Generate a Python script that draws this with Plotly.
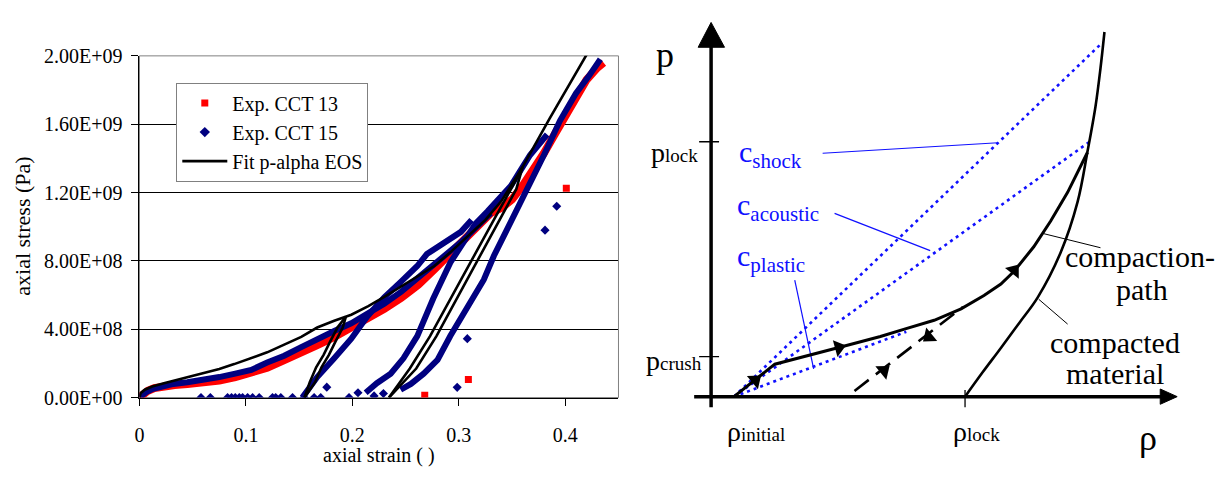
import math
import plotly.graph_objects as go

W, H = 1218, 484
SERIF = "Times New Roman, Liberation Serif, DejaVu Serif, serif"
RED = "#ff0000"
NAVY = "#000080"
BLUE = "#1010ff"

# ---------------- Left chart: experimental data (strain [-], stress [Pa]) ----------------
cct13_strain = [0, 0.003, 0.008, 0.014, 0.022, 0.033, 0.045, 0.058, 0.075, 0.09, 0.105, 0.12,
                0.136, 0.152, 0.167, 0.183, 0.199, 0.215, 0.23, 0.246, 0.262, 0.277, 0.29, 0.302,
                0.312, 0.321, 0.33, 0.34, 0.35, 0.36, 0.37, 0.38, 0.39, 0.40, 0.41, 0.42, 0.43, 0.436]
cct13_stress = [0, 2.0e7, 4.0e7, 5.6e7, 6.6e7, 7.4e7, 7.9e7, 8.6e7, 1.0e8, 1.2e8, 1.45e8, 1.75e8,
                2.2e8, 2.6e8, 3.07e8, 3.55e8, 4.1e8, 4.6e8, 5.2e8, 5.85e8, 6.6e8, 7.5e8, 8.3e8, 9.0e8,
                9.7e8, 1.03e9, 1.08e9, 1.11e9, 1.16e9, 1.24e9, 1.33e9, 1.43e9, 1.54e9, 1.65e9, 1.76e9,
                1.86e9, 1.93e9, 1.96e9]
cct13_extra_strain = [0.268, 0.309, 0.401]
cct13_extra_stress = [1.3e7, 1.06e8, 1.225e9]

# CCT 15: loading branch and re-loading branches
cct15_load_strain = [0, 0.002, 0.006, 0.012, 0.02, 0.03, 0.045, 0.06, 0.075, 0.09, 0.105, 0.12,
                     0.136, 0.152, 0.167, 0.183, 0.199, 0.215, 0.23, 0.246, 0.262, 0.277, 0.29,
                     0.302, 0.312, 0.321, 0.33]
cct15_load_stress = [0, 1.2e7, 3.0e7, 5.0e7, 6.6e7, 7.8e7, 9.0e7, 1.03e8, 1.2e8, 1.4e8, 1.62e8, 2.05e8,
                     2.45e8, 2.95e8, 3.45e8, 3.9e8, 4.35e8, 4.9e8, 5.5e8, 6.2e8, 7.0e8, 7.8e8, 8.5e8,
                     9.1e8, 9.7e8, 1.02e9, 1.08e9]
cct15_rel1_strain = [0.153, 0.155, 0.167, 0.183, 0.199, 0.214, 0.23, 0.246, 0.261, 0.27, 0.286, 0.302, 0.312]
cct15_rel1_stress = [0, 1.8e7, 1.2e8, 2.3e8, 3.45e8, 4.75e8, 5.87e8, 6.8e8, 7.7e8, 8.4e8, 9.05e8, 9.7e8, 1.04e9]
cct15_rel2_strain = [0.2125, 0.223, 0.236, 0.248, 0.261, 0.276, 0.292, 0.305, 0.316, 0.327, 0.338, 0.349,
                     0.358, 0.367, 0.375, 0.383]
cct15_rel2_stress = [2.8e7, 8.4e7, 1.4e8, 2.3e8, 3.6e8, 5.8e8, 7.9e8, 9.2e8, 1.02e9, 1.09e9, 1.16e9, 1.24e9,
                     1.33e9, 1.42e9, 1.48e9, 1.54e9]
cct15_rel3_strain = [0.2454, 0.255, 0.267, 0.28, 0.292, 0.303, 0.314, 0.3235, 0.333, 0.345, 0.355, 0.365,
                     0.38, 0.395, 0.41, 0.422, 0.433]
cct15_rel3_stress = [4.6e7, 8.0e7, 1.4e8, 2.2e8, 3.6e8, 4.8e8, 6.0e8, 6.9e8, 8.3e8, 9.8e8, 1.1e9, 1.22e9,
                     1.42e9, 1.62e9, 1.78e9, 1.88e9, 1.98e9]
cct15_extra_strain = [0.0578, 0.0666, 0.0828, 0.0865, 0.09, 0.0938, 0.0969, 0.1016, 0.1063, 0.1125, 0.125,
                      0.128, 0.1328, 0.1438, 0.1547, 0.1641, 0.1703, 0.176, 0.1969, 0.2053, 0.2204, 0.2292,
                      0.2985, 0.308, 0.381, 0.392]
cct15_extra_stress = [0, 0, 0, 0, 0, 0, 0, 0, 0, 0, 0,
                      0, 0, 0, 0, 0, 0, 6.1e7, 0, 2.8e7, 1.0e7, 2.4e7,
                      6.0e7, 3.45e8, 9.8e8, 1.12e9]

# Fit p-alpha EOS: loading curve and two unload/reload loops
fit_load_strain = [0, 0.001, 0.005, 0.012, 0.023, 0.04, 0.058, 0.075, 0.089, 0.105, 0.12, 0.136, 0.152,
                   0.167, 0.183, 0.199, 0.215, 0.23, 0.246, 0.262, 0.277, 0.292, 0.308, 0.325, 0.34,
                   0.36, 0.385, 0.405, 0.425]
fit_load_stress = [0, 2.5e7, 4.6e7, 6.5e7, 8.4e7, 1.1e8, 1.4e8, 1.68e8, 1.96e8, 2.3e8, 2.65e8, 3.1e8, 3.55e8,
                   4.1e8, 4.5e8, 4.85e8, 5.35e8, 5.9e8, 6.5e8, 7.1e8, 7.7e8, 8.5e8, 9.4e8, 1.04e9, 1.15e9,
                   1.35e9, 1.63e9, 1.85e9, 2.06e9]
fit_loop1a_strain = [0.155, 0.160, 0.166, 0.173, 0.179, 0.186, 0.194]
fit_loop1b_strain = [0.155, 0.165, 0.171, 0.178, 0.184, 0.191, 0.194]
fit_loop1_stress = [0, 0.9e8, 1.77e8, 2.5e8, 3.26e8, 4.1e8, 4.75e8]
fit_loop2a_strain = [0.2344, 0.254, 0.273, 0.294, 0.314, 0.332, 0.349, 0.36]
fit_loop2b_strain = [0.2344, 0.260, 0.279, 0.300, 0.320, 0.338, 0.354, 0.36]
fit_loop2_stress = [0, 1.7e8, 3.6e8, 6.0e8, 8.3e8, 1.03e9, 1.22e9, 1.35e9]

y_tickvals = [0, 4e8, 8e8, 1.2e9, 1.6e9, 2e9]
y_ticktext = ["0.00E+00", "4.00E+08", "8.00E+08", "1.20E+09", "1.60E+09", "2.00E+09"]
x_tickvals = [0, 0.1, 0.2, 0.3, 0.4]
x_ticktext = ["0", "0.1", "0.2", "0.3", "0.4"]

# ---------------- Right: schematic p-alpha diagram (rho units, p units) ----------------
p_axis_rho, p_axis_p = [0, 0], [-11, 367]
p_head_rho, p_head_p = [-13, 13.5, 0, -13], [366, 366, 392, 366]
rho_axis_rho, rho_axis_p = [-17, 452], [0, 0]
rho_head_rho, rho_head_p = [451, 451, 468, 451], [8, -8, 0, 8]
p_lock_level, p_crush_level, rho_lock_level = 267, 42, 255
tick_half = (-12, 8)

path_rho = [23, 64, 134, 170, 195, 224, 251, 274, 291, 304, 324, 341, 358, 378]
path_p = [0, 34, 53, 63, 71, 80, 92, 106, 118, 131, 157, 184, 214, 256]
compacted_rho = [255, 273, 291, 310, 328, 351, 368, 378, 386, 391, 395]
compacted_p = [0, 26, 51, 78, 104, 151, 204, 257, 304, 344, 382]
unload_rho, unload_p = [144, 253], [6, 94]
c_shock_rho, c_shock_p = [23, 393], [0, 371]
c_acoustic_rho, c_acoustic_p = [23, 380], [0, 267]
c_plastic_rho, c_plastic_p = [23, 196], [0, 68]
blue_leaders = [((112, 255), (288, 266)), ((124, 192), (220, 153)), ((84, 122), (103, 29))]
black_leaders = [((333, 171), (391, 156)), ((329, 102), (358, 76))]
# arrowheads: (tail, tip) along the paths
path_arrows = [((37.5, 11.5), (49, 21)), ((120.5, 49.3), (134, 53)), ((299.5, 126), (308, 137)),
               ((167, 22), (178, 31)), ((225, 68), (214, 59))]


def joined(xs_list, ys_list):
    X, Y = [], []
    for xs, ys in zip(xs_list, ys_list):
        if X:
            X.append(None)
            Y.append(None)
        X += list(xs)
        Y += list(ys)
    return X, Y


fig = go.Figure()

# ----- left chart traces -----
fig.add_trace(go.Scatter(x=cct13_strain, y=cct13_stress, mode="lines",
                         line=dict(color=RED, width=8), showlegend=False, hoverinfo="skip"))
fig.add_trace(go.Scatter(x=cct13_extra_strain, y=cct13_extra_stress, mode="markers",
                         marker=dict(symbol="square", color=RED, size=7), showlegend=False))
bx, by = joined([cct15_load_strain, cct15_rel1_strain, cct15_rel2_strain, cct15_rel3_strain],
                [cct15_load_stress, cct15_rel1_stress, cct15_rel2_stress, cct15_rel3_stress])
fig.add_trace(go.Scatter(x=bx, y=by, mode="lines", line=dict(color=NAVY, width=6),
                         showlegend=False, hoverinfo="skip"))
fig.add_trace(go.Scatter(x=cct15_extra_strain, y=cct15_extra_stress, mode="markers",
                         marker=dict(symbol="diamond", color=NAVY, size=7), showlegend=False))
fx, fy = joined([fit_load_strain, fit_loop1a_strain, fit_loop1b_strain, fit_loop2a_strain, fit_loop2b_strain],
                [fit_load_stress, fit_loop1_stress, fit_loop1_stress, fit_loop2_stress, fit_loop2_stress])

# legend entries
fig.add_trace(go.Scatter(x=[None], y=[None], mode="markers", name="Exp. CCT 13",
                         marker=dict(symbol="square", color=RED, size=7)))
fig.add_trace(go.Scatter(x=[None], y=[None], mode="markers", name="Exp. CCT 15",
                         marker=dict(symbol="diamond", color=NAVY, size=8)))
fig.add_trace(go.Scatter(x=fx, y=fy, mode="lines", name="Fit p-alpha EOS",
                         line=dict(color="black", width=2.6)))


# ----- right schematic traces -----
def sch_line(xs, ys, color="black", width=2, dash=None, fill=None, shape="linear"):
    fig.add_trace(go.Scatter(x=xs, y=ys, xaxis="x2", yaxis="y2", mode="lines",
                             line=dict(color=color, width=width, dash=dash, shape=shape),
                             fill=fill, fillcolor=color if fill else None,
                             showlegend=False, hoverinfo="skip"))


sch_line(c_shock_rho, c_shock_p, BLUE, 2.6, "3px,4px")
sch_line(c_acoustic_rho, c_acoustic_p, BLUE, 2.6, "3px,4px")
sch_line(c_plastic_rho, c_plastic_p, BLUE, 2.6, "3px,4px")
for (a, b) in blue_leaders:
    sch_line([a[0], b[0]], [a[1], b[1]], BLUE, 1.2)
for (a, b) in black_leaders:
    sch_line([a[0], b[0]], [a[1], b[1]], "black", 1)
sch_line(p_axis_rho, p_axis_p, "black", 3.5)
sch_line(p_head_rho, p_head_p, "black", 1, fill="toself")
sch_line(rho_axis_rho, rho_axis_p, "black", 3.5)
sch_line(rho_head_rho, rho_head_p, "black", 1, fill="toself")
sch_line(list(tick_half), [p_lock_level, p_lock_level], "black", 1.3)
sch_line(list(tick_half), [p_crush_level, p_crush_level], "black", 1.3)
sch_line([rho_lock_level, rho_lock_level], [7, -11], "black", 1.3)
sch_line(path_rho, path_p, "black", 3)
sch_line(compacted_rho, compacted_p, "black", 2.6, shape="spline")
sch_line(unload_rho, unload_p, "black", 2.6, "18px,9px")

# arrowheads as rotated triangle markers (placed half a head-length behind the tip)
ah_x, ah_y, ah_ang = [], [], []
for (tail, tip) in path_arrows:
    dx, dy = tip[0] - tail[0], tip[1] - tail[1]
    n = math.hypot(dx, dy)
    ah_x.append(tip[0] - 6 * dx / n)
    ah_y.append(tip[1] - 6 * dy / n)
    ah_ang.append(math.degrees(math.atan2(dx, dy)))
fig.add_trace(go.Scatter(x=ah_x, y=ah_y, xaxis="x2", yaxis="y2", mode="markers",
                         marker=dict(symbol="triangle-up", size=15, color="black", angle=ah_ang,
                                     line=dict(width=0)),
                         showlegend=False, hoverinfo="skip"))

annotations = []


def label(x, y, text, size, color="black", xanchor="center"):
    annotations.append(dict(x=x, y=y, xref="x2", yref="y2", text=text, showarrow=False,
                            xanchor=xanchor, yanchor="middle",
                            font=dict(family=SERIF, size=size, color=color)))


label(-46, 358, "p", 36)
label(439, -43, "ρ", 36)
label(-11, 256, 'p<span style="font-size:19px">lock</span>', 28, xanchor="right")
label(-7, 38, 'p<span style="font-size:19px">crush</span>', 28, xanchor="right")
label(14, -37, 'ρ<span style="font-size:19px">initial</span>', 28, xanchor="left")
label(241, -37, 'ρ<span style="font-size:19px">lock</span>', 28, xanchor="left")
label(26, 254, "c<sub>shock</sub>", 30, BLUE, "left")
label(24, 199, "c<sub>acoustic</sub>", 30, BLUE, "left")
label(24, 145, "c<sub>plastic</sub>", 30, BLUE, "left")
label(431, 147, "compaction-", 30)
label(433, 112, "path", 30)
label(406, 57, "compacted", 30)
label(406, 24, "material", 30)

# left axis titles
annotations.append(dict(x=18 / W, y=1 - 225 / H, xref="paper", yref="paper", text="axial stress (Pa)",
                        textangle=-90, showarrow=False, xanchor="center", yanchor="middle",
                        font=dict(family=SERIF, size=22, color="black")))
annotations.append(dict(x=376 / W, y=1 - 466 / H, xref="paper", yref="paper", text="axial strain ( )",
                        showarrow=False, xanchor="center", yanchor="middle",
                        font=dict(family=SERIF, size=20, color="black")))

fig.update_layout(
    width=W, height=H, margin=dict(l=0, r=0, t=0, b=0),
    paper_bgcolor="white", plot_bgcolor="white",
    font=dict(family=SERIF, size=20, color="black"),
    xaxis=dict(domain=[135 / W, 616 / W], range=[0, 0.45], tickvals=x_tickvals, ticktext=x_ticktext,
               showgrid=False, zeroline=False, showline=True, linecolor="black", linewidth=1,
               ticks="outside", ticklen=7, tickcolor="black", ticklabelstandoff=12,
               tickfont=dict(family=SERIF, size=20)),
    yaxis=dict(domain=[1 - 405 / H, 1 - 47 / H], range=[0, 2e9], tickvals=y_tickvals, ticktext=y_ticktext,
               showgrid=True, gridcolor="black", gridwidth=1, zeroline=False, showline=True,
               linecolor="black", linewidth=1, ticks="outside", ticklen=7, tickcolor="black",
               ticklabelstandoff=5, tickfont=dict(family=SERIF, size=20)),
    xaxis2=dict(domain=[630 / W, 1], range=[-79, 509], visible=False, anchor="y2"),
    yaxis2=dict(domain=[0, 1], range=[-80, 404], visible=False, anchor="x2"),
    legend=dict(x=172 / W, y=1 - 75 / H, xanchor="left", yanchor="top", bgcolor="white",
                bordercolor="#808080", borderwidth=1, font=dict(family=SERIF, size=20),
                itemwidth=45, tracegroupgap=0),
    annotations=annotations,
    shapes=[dict(type="rect", xref="x domain", yref="y domain", x0=0, x1=1, y0=0, y1=1,
                 line=dict(color="#808080", width=1), layer="below")],
    showlegend=True,
)

fig.write_html("out.html")
